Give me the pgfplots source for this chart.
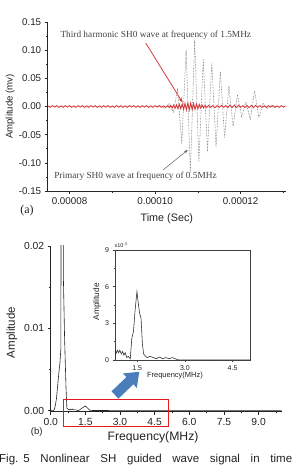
\documentclass[border=0pt]{standalone}
\usepackage{pgfplots}
\pgfplotsset{compat=1.18}
\usetikzlibrary{arrows.meta}
\usepackage{fontspec}
\setmainfont{Liberation Sans}
\newfontfamily\timesfont{Liberation Serif}
\definecolor{wavered}{HTML}{D63A3A}
\definecolor{boxred}{HTML}{E8191E}
\definecolor{arrowblue}{HTML}{4A7EBB}
\definecolor{txt}{HTML}{222222}
\definecolor{wavegray}{HTML}{606060}

\begin{document}
\begin{tikzpicture}
\useasboundingbox (0pt,0pt) rectangle (293pt,469pt);

% ---------------- (a) time-domain signal ----------------
\begin{axis}[
  at={(47.7pt,278pt)}, anchor=south west,
  scale only axis, width=238.3pt, height=169pt,
  xmin=7.49e-5, xmax=1.306e-4, ymin=-0.15, ymax=0.15,
  axis lines*=left,
  axis line style={black!85, line width=0.6pt},
  tick align=outside, major tick length=3pt, minor tick length=1.7pt,
  every tick/.style={black!85, line width=0.5pt},
  xtick={8e-5,1e-4,1.2e-4}, xticklabels={0.00008,0.00010,0.00012},
  minor xtick={9e-5,1.1e-4,1.3e-4},
  ytick={-0.15,-0.1,-0.05,0,0.05,0.1,0.15},
  yticklabels={-0.15,-0.10,-0.05,0.00,0.05,0.10,0.15},
  minor ytick={-0.125,-0.075,-0.025,0.025,0.075,0.125},
  scaled x ticks=false, scaled y ticks=false,
  tick label style={font=\fontsize{9.8}{10}\selectfont, text=txt},
  xlabel={Time (Sec)}, ylabel={Amplitude (mv)},
  xlabel style={font=\fontsize{10.8}{12}\selectfont, text=txt,
    at={(axis description cs:0.5,-0.1615)}, anchor=center},
  ylabel style={font=\fontsize{9.6}{10}\selectfont, text=txt,
    at={(axis description cs:-0.158,0.5)}, anchor=center},
]
% primary SH0 wave (0.5 MHz), one extremum per half period
\addplot[wavegray, densely dotted, line width=0.55pt] coordinates {
 (1.0025e-4,0) (1.0125e-4,0.002) (1.0225e-4,-0.003) (1.0325e-4,0.005)
 (1.0425e-4,-0.010) (1.0525e-4,0.030) (1.0625e-4,-0.066) (1.0725e-4,0.100)
 (1.0825e-4,-0.118) (1.0925e-4,0.118) (1.1025e-4,-0.098) (1.1125e-4,0.085)
 (1.1225e-4,-0.080) (1.1325e-4,0.078) (1.1425e-4,-0.072) (1.1525e-4,0.062)
 (1.1625e-4,-0.055) (1.1725e-4,0.036) (1.1825e-4,-0.036) (1.1925e-4,0.021)
 (1.2025e-4,-0.018) (1.2125e-4,0.008) (1.2225e-4,-0.024) (1.2325e-4,0.028)
 (1.2425e-4,-0.020) (1.2525e-4,0.006) (1.2625e-4,-0.004) (1.2725e-4,0.002)
 (1.2825e-4,0)
};
% third harmonic SH0 wave (1.5 MHz)
\addplot[wavered, line width=0.9pt] coordinates {
 (7.50e-5,0.0010) (7.55e-5,-0.0015) (7.60e-5,0.0015) (7.65e-5,-0.0010)
 (7.70e-5,0.0015) (7.75e-5,-0.0015) (7.80e-5,0.0010) (7.85e-5,-0.0015)
 (7.90e-5,0.0015) (7.95e-5,-0.0010) (8.00e-5,0.0015) (8.05e-5,-0.0015)
 (8.10e-5,0.0010) (8.15e-5,-0.0015) (8.20e-5,0.0015) (8.25e-5,-0.0010)
 (8.30e-5,0.0015) (8.35e-5,-0.0015) (8.40e-5,0.0010) (8.45e-5,-0.0015)
 (8.50e-5,0.0015) (8.55e-5,-0.0010) (8.60e-5,0.0015) (8.65e-5,-0.0015)
 (8.70e-5,0.0010) (8.75e-5,-0.0015) (8.80e-5,0.0015) (8.85e-5,-0.0010)
 (8.90e-5,0.0015) (8.95e-5,-0.0015) (9.00e-5,0.0010) (9.05e-5,-0.0015)
 (9.10e-5,0.0015) (9.15e-5,-0.0010) (9.20e-5,0.0015) (9.25e-5,-0.0015)
 (9.30e-5,0.0010) (9.35e-5,-0.0015) (9.40e-5,0.0015) (9.45e-5,-0.0010)
 (9.50e-5,0.0015) (9.55e-5,-0.0015) (9.60e-5,0.0010) (9.65e-5,-0.0015)
 (9.70e-5,0.0015) (9.75e-5,-0.0010) (9.80e-5,0.0015) (9.85e-5,-0.0015)
 (9.90e-5,0.0010) (9.95e-5,-0.0015) (1.000e-4,0.0015) (1.005e-4,-0.0010)
 (1.010e-4,0.0015) (1.015e-4,-0.0015) (1.020e-4,0.0010) (1.025e-4,-0.0015)
 (1.0300e-4,0.0015) (1.0333e-4,-0.0020) (1.0367e-4,0.0020) (1.0400e-4,-0.0025)
 (1.0433e-4,0.0025) (1.0467e-4,-0.0030) (1.0500e-4,0.0030) (1.0533e-4,-0.0035)
 (1.0567e-4,0.0040) (1.0600e-4,-0.0040) (1.0633e-4,0.0045) (1.0667e-4,-0.0050)
 (1.0700e-4,0.0055) (1.0733e-4,-0.0060) (1.0767e-4,0.0060) (1.0800e-4,-0.0060)
 (1.0833e-4,0.0060) (1.0867e-4,-0.0055) (1.0900e-4,0.0055) (1.0933e-4,-0.0050)
 (1.0967e-4,0.0045) (1.1000e-4,-0.0040) (1.1033e-4,0.0035) (1.1067e-4,-0.0030)
 (1.1100e-4,0.0025) (1.1133e-4,-0.0025) (1.1167e-4,0.0020) (1.1200e-4,-0.0020)
 (1.125e-4,0.0020) (1.130e-4,-0.0015) (1.135e-4,0.0015) (1.140e-4,-0.0020)
 (1.145e-4,0.0015) (1.150e-4,-0.0015) (1.155e-4,0.0020) (1.160e-4,-0.0015)
 (1.165e-4,0.0015) (1.170e-4,-0.0020) (1.175e-4,0.0025) (1.180e-4,-0.0020)
 (1.185e-4,0.0025) (1.190e-4,-0.0020) (1.195e-4,0.0020) (1.200e-4,-0.0015)
 (1.205e-4,0.0015) (1.210e-4,-0.0015) (1.215e-4,0.0015) (1.220e-4,-0.0020)
 (1.225e-4,0.0020) (1.230e-4,-0.0020) (1.235e-4,0.0020) (1.240e-4,-0.0015)
 (1.245e-4,0.0015) (1.250e-4,-0.0015) (1.255e-4,0.0010) (1.260e-4,-0.0015)
 (1.265e-4,0.0015) (1.270e-4,-0.0010) (1.275e-4,0.0015) (1.280e-4,-0.0015)
 (1.285e-4,0.0010) (1.290e-4,-0.0015) (1.295e-4,0.0015) (1.300e-4,-0.0010)
 (1.305e-4,0.0010)
};
\end{axis}

% annotations of (a)
\node[font=\timesfont\fontsize{9.3}{10}\selectfont, text=txt!85] at (155.8pt,434pt)
  {Third harmonic SH0 wave at frequency of 1.5MHz};
\draw[wavered, line width=0.8pt, -{Stealth[length=5pt,width=3.5pt]}]
  (145.7pt,426pt) -- (182.7pt,366.3pt);
\node[font=\timesfont\fontsize{9.3}{10}\selectfont, text=txt!85] at (135.5pt,292.3pt)
  {Primary SH0 wave at frequency of 0.5MHz};
\draw[wavegray, line width=0.5pt, -{Stealth[length=4pt,width=3pt]}]
  (163pt,299pt) -- (187.7pt,319pt);
\node[font=\timesfont\fontsize{12}{13}\selectfont, text=txt] at (27pt,258pt) {(a)};

% ---------------- (b) amplitude spectrum ----------------
\begin{axis}[
  at={(50.7pt,57.3pt)}, anchor=south west,
  scale only axis, width=231pt, height=165.7pt,
  xmin=0, xmax=10, ymin=-0.00012, ymax=0.02,
  clip mode=individual,
  axis lines*=left,
  axis line style={black!85, line width=0.6pt},
  tick align=outside, major tick length=3pt, minor tick length=1.7pt,
  every tick/.style={black!85, line width=0.5pt},
  xtick={0,1.5,3,4.5,6,7.5,9},
  xticklabels={0.0,1.5,3.0,4.5,6.0,7.5,9.0},
  minor xtick={0.75,2.25,3.75,5.25,6.75,8.25,9.75},
  ytick={0,0.01,0.02}, yticklabels={0.00,0.01,0.02},
  minor ytick={0.005,0.015},
  scaled x ticks=false, scaled y ticks=false,
  tick label style={font=\fontsize{10.3}{11}\selectfont, text=txt},
  xlabel={Frequency(MHz)}, ylabel={Amplitude},
  xlabel style={font=\fontsize{12.2}{13}\selectfont, text=txt,
    at={(axis description cs:0.443,-0.1545)}, anchor=center},
  ylabel style={font=\fontsize{11.5}{12}\selectfont, text=txt,
    at={(axis description cs:-0.1675,0.478)}, anchor=center},
]
\addplot[black!85, line width=0.6pt] coordinates {
 (0.00,0.0000) (0.10,0.0000) (0.15,0.0001) (0.20,0.0006) (0.25,0.0015)
 (0.30,0.0030) (0.35,0.0045) (0.40,0.0058) (0.44,0.0075) (0.45,0.0280)
 (0.54,0.0280) (0.55,0.0160) (0.60,0.0090) (0.66,0.0030) (0.70,0.0003)
 (0.75,0.0002) (0.80,0.0001) (0.85,0.0002) (0.90,0.0001) (0.95,0.0002)
 (1.00,0.0001) (1.10,0.0001) (1.20,0.0000) (1.30,0.0002) (1.40,0.0004)
 (1.50,0.00056) (1.57,0.0004) (1.64,0.0002) (1.70,0.00005) (1.80,0.00003)
 (2.00,0.00003) (2.20,0.00002) (2.50,0.00002) (2.80,0.0) (10.0,0.0)
};
\draw[boxred, line width=1pt] (axis cs:0.545,-0.00194) rectangle (axis cs:5.09,0.00138);
\end{axis}
\node[font=\fontsize{9.5}{10}\selectfont, text=txt] at (36.7pt,37.3pt) {(b)};

% blue pointer towards the zoomed view
\fill[arrowblue] (111.5pt,77.6pt) -- (126.4pt,91.9pt) -- (123.0pt,95.5pt)
  -- (139.3pt,97.3pt) -- (136.8pt,81.1pt) -- (133.4pt,84.7pt)
  -- (118.5pt,70.4pt) -- cycle;

% ---------------- zoomed view of the third harmonic ----------------
\begin{axis}[
  at={(115pt,109pt)}, anchor=south west,
  scale only axis, width=135.7pt, height=110pt,
  xmin=0.8, xmax=5.07, ymin=0, ymax=0.009,
  axis background/.style={fill=white},
  axis line style={black!75, line width=0.6pt},
  tick align=outside, major tick length=2.5pt, minor tick length=1.4pt,
  every tick/.style={black!75, line width=0.45pt},
  xtick pos=left, ytick pos=left,
  xtick={1.5,3,4.5}, xticklabels={1.5,3.0,4.5},
  minor xtick={2.25,3.75},
  ytick={0,0.003,0.006,0.009}, yticklabels={0,3,6,9},
  minor ytick={0.0015,0.0045,0.0075},
  scaled x ticks=false, scaled y ticks=false,
  tick label style={font=\fontsize{7}{8}\selectfont, text=txt},
  xlabel={Frequency(MHz)}, ylabel={Amplitude},
  xlabel style={font=\fontsize{7.5}{8}\selectfont, text=txt,
    at={(axis description cs:0.442,-0.143)}, anchor=center},
  ylabel style={font=\fontsize{8.3}{9}\selectfont, text=txt,
    at={(axis description cs:-0.133,0.53)}, anchor=center},
]
\addplot[black!85, line width=0.55pt] coordinates {
 (0.80,0.0009) (0.83,0.0005) (0.87,0.0008) (0.91,0.0006) (0.95,0.0008)
 (1.00,0.0005) (1.04,0.0007) (1.08,0.0004) (1.12,0.0006) (1.17,0.0002)
 (1.22,0.0003) (1.28,0.0001) (1.33,0.0018) (1.38,0.0023) (1.43,0.0040)
 (1.49,0.0056) (1.53,0.0047) (1.57,0.0039) (1.62,0.0034) (1.66,0.0014)
 (1.70,0.0005) (1.76,0.0003) (1.82,0.0002) (1.90,0.0003) (2.00,0.0002)
 (2.10,0.0001) (2.20,0.00025) (2.30,0.0001) (2.40,0.0002) (2.50,0.0001)
 (2.60,0.0002) (2.70,0.0001) (2.80,0.0) (5.07,0.0)
};
\end{axis}
\node[font=\fontsize{5.5}{6}\selectfont, text=txt] at (121pt,224pt) {x10\textsuperscript{-3}};

% caption line
\node[anchor=base west, inner sep=0pt, font=\fontsize{11.5}{13}\selectfont, text=txt]
  at (-1pt,6pt) {\makebox[293pt][s]{\mbox{Fig.\hspace{5pt}5} Nonlinear SH guided wave signal in time}};
\end{tikzpicture}
\end{document}
